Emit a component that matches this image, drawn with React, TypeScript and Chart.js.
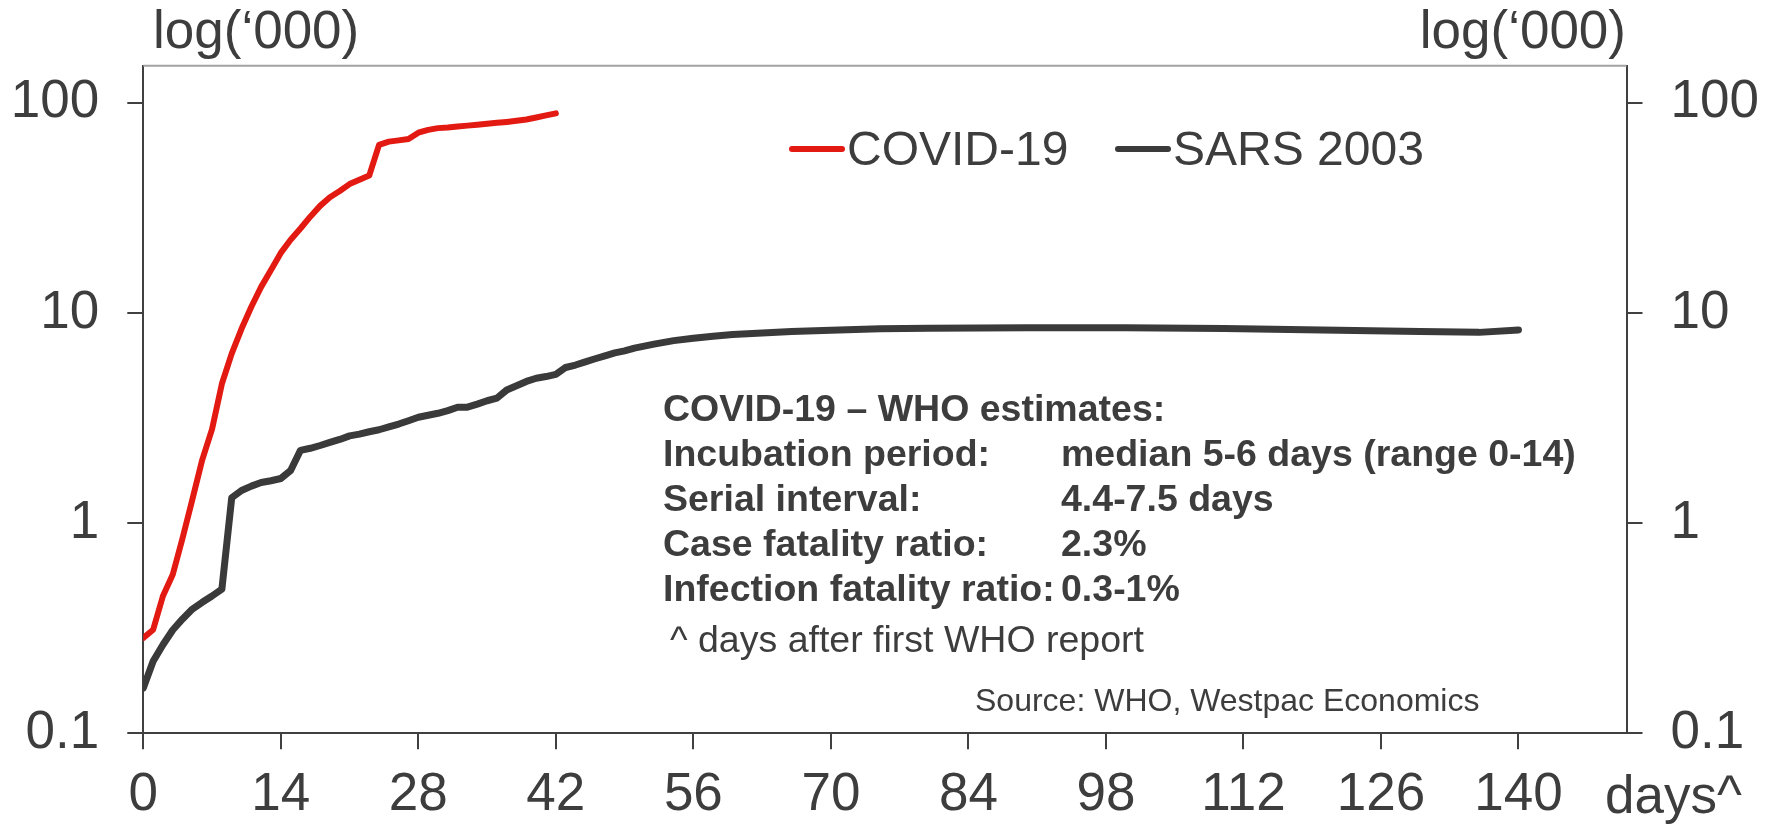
import React, { useEffect, useRef } from "react";
import { Chart, registerables } from "chart.js";

Chart.register(...registerables);

// ---------- data ----------
const covidDays = [
  0, 1, 2, 3, 4, 5, 6, 7, 8, 9, 10, 11, 12, 13, 14, 15, 16, 17, 18, 19, 20,
  21, 22, 23, 24, 25, 26, 27, 28, 29, 30, 31, 32, 33, 34, 35, 36, 37, 38, 39,
  40, 41, 42,
];
const covidCases = [
  0.284, 0.311, 0.45, 0.57, 0.85, 1.3, 2.0, 2.8, 4.6, 6.4, 8.4, 10.7, 13.3,
  16.0, 19.3, 22.3, 25.2, 28.7, 32.3, 35.5, 38.0, 41.0, 43.0, 45.0, 63.0, 65.3,
  66.2, 67.2, 72.0, 74.3, 75.7, 76.3, 77.1, 77.8, 78.6, 79.5, 80.2, 81.0, 82.0,
  83.2, 85.0, 87.0, 89.0,
];

const sarsDays = [
  0, 1, 2, 3, 4, 5, 6, 7, 8, 9, 10, 11, 12, 13, 14, 15, 16, 17, 18, 19, 20,
  21, 22, 23, 24, 25, 26, 27, 28, 29, 30, 31, 32, 33, 34, 35, 36, 37, 38, 39,
  40, 41, 42, 43, 44, 45, 46, 47, 48, 49, 50, 52, 54, 56, 58, 60, 63, 66, 70,
  75, 80, 90, 100, 110, 120, 130, 136, 140,
];
const sarsCases = [
  0.164, 0.22, 0.264, 0.31, 0.35, 0.39, 0.42, 0.45, 0.485, 1.32, 1.43, 1.5,
  1.56, 1.59, 1.63, 1.78, 2.22, 2.27, 2.34, 2.42, 2.5, 2.6, 2.65, 2.72, 2.78,
  2.87, 2.96, 3.07, 3.19, 3.26, 3.33, 3.43, 3.56, 3.56, 3.68, 3.82, 3.93, 4.3,
  4.5, 4.72, 4.89, 4.98, 5.1, 5.5, 5.65, 5.85, 6.05, 6.25, 6.45, 6.6, 6.8, 7.1,
  7.38, 7.58, 7.75, 7.9, 8.02, 8.15, 8.28, 8.4, 8.46, 8.5, 8.5, 8.42, 8.3,
  8.15, 8.08, 8.3,
];

const seriesNames = ["COVID-19", "SARS 2003"];
const xTickValues = [0, 14, 28, 42, 56, 70, 84, 98, 112, 126, 140];
const yTickValues = [0.1, 1, 10, 100];
const yTickLabels = ["0.1", "1", "10", "100"];
const unitLabel = "log(\u2018000)";
const xUnitLabel = "days^";
const noteTitle = "COVID-19 \u2013 WHO estimates:";
const noteLabels = [
  "Incubation period:",
  "Serial interval:",
  "Case fatality ratio:",
  "Infection fatality ratio:",
];
const noteValues = [
  "median 5-6 days (range 0-14)",
  "4.4-7.5 days",
  "2.3%",
  "0.3-1%",
];
const footnote = "^ days after first WHO report";
const sourceNote = "Source: WHO, Westpac Economics";

// ---------- styles ----------
const FONT = '"Liberation Sans", Arial, Helvetica, sans-serif';
const TEXT = "#3d3d3d";
const AXIS = "#404040";
const RED = "#e31a12";
const DARK = "#3a3a3a";
const BIG = 53;

const W = 1777;
const H = 825;

const overlayPlugin = {
  id: "overlay",
  afterDraw(chart: any) {
    const ctx = chart.ctx as CanvasRenderingContext2D;
    const area = chart.chartArea;
    ctx.save();

    // top border
    ctx.strokeStyle = "#a3a3a3";
    ctx.lineWidth = 2;
    ctx.beginPath();
    ctx.moveTo(area.left, area.top);
    ctx.lineTo(area.right, area.top);
    ctx.stroke();

    ctx.fillStyle = TEXT;
    ctx.textBaseline = "alphabetic";

    // axis unit titles
    ctx.font = `${BIG}px ${FONT}`;
    ctx.textAlign = "left";
    ctx.fillText(unitLabel, 153, 48);
    ctx.textAlign = "right";
    ctx.fillText(unitLabel, 1626, 48);
    ctx.textAlign = "left";
    ctx.fillText(xUnitLabel, 1605, 813);

    // legend
    const ds = chart.data.datasets;
    const legendItems = [
      { x: 789, tx: 847 },
      { x: 1115, tx: 1173 },
    ];
    legendItems.forEach((it, i) => {
      ctx.strokeStyle = ds[i].borderColor;
      ctx.lineWidth = 6;
      ctx.lineCap = "round";
      ctx.beginPath();
      ctx.moveTo(it.x + 3, 149);
      ctx.lineTo(it.x + 53, 149);
      ctx.stroke();
      ctx.fillStyle = TEXT;
      ctx.font = `48px ${FONT}`;
      ctx.textAlign = "left";
      ctx.fillText(ds[i].label, it.tx, 165);
    });

    // notes
    ctx.fillStyle = TEXT;
    ctx.textAlign = "left";
    ctx.font = `bold 37.5px ${FONT}`;
    ctx.fillText(noteTitle, 663, 421);
    const baselines = [466, 511, 556, 601];
    noteLabels.forEach((lab, i) => {
      ctx.fillText(lab, 663, baselines[i]);
      ctx.fillText(noteValues[i], 1061, baselines[i]);
    });
    ctx.font = `37.5px ${FONT}`;
    ctx.fillText(footnote, 670, 652);
    ctx.font = `32px ${FONT}`;
    ctx.fillText(sourceNote, 975, 711);

    ctx.restore();
  },
};

function yAxis(position: "left" | "right", width: number) {
  return {
    type: "logarithmic" as const,
    position,
    min: 0.1,
    max: 150,
    afterBuildTicks: (s: any) => {
      s.ticks = yTickValues.map((v) => ({ value: v }));
    },
    afterFit: (s: any) => {
      s.width = width;
    },
    grid: {
      display: true,
      drawOnChartArea: false,
      drawTicks: true,
      tickLength: 16,
      color: AXIS,
      lineWidth: 2,
    },
    border: { display: true, color: AXIS, width: 2 },
    ticks: {
      font: { family: FONT, size: BIG },
      color: TEXT,
      padding: 28,
      autoSkip: false,
      callback: (v: any) => {
        const i = yTickValues.indexOf(Number(v));
        return i >= 0 ? yTickLabels[i] : "";
      },
    },
  };
}

export default function App() {
  const ref = useRef<HTMLCanvasElement | null>(null);

  useEffect(() => {
    if (!ref.current) return;
    const chart = new Chart(ref.current, {
      type: "line",
      data: {
        datasets: [
          {
            label: seriesNames[0],
            data: covidDays.map((d, i) => ({ x: d, y: covidCases[i] })),
            borderColor: RED,
            backgroundColor: RED,
            borderWidth: 6,
            pointRadius: 0,
            tension: 0,
            borderCapStyle: "round",
            borderJoinStyle: "round",
            yAxisID: "y",
          },
          {
            label: seriesNames[1],
            data: sarsDays.map((d, i) => ({ x: d, y: sarsCases[i] })),
            borderColor: DARK,
            backgroundColor: DARK,
            borderWidth: 7,
            pointRadius: 0,
            tension: 0,
            borderCapStyle: "round",
            borderJoinStyle: "round",
            yAxisID: "y",
          },
        ],
      },
      options: {
        animation: false,
        responsive: false,
        maintainAspectRatio: false,
        devicePixelRatio: 1,
        layout: { padding: { top: 65.7, left: 0, right: 0, bottom: 0 } },
        plugins: {
          legend: { display: false },
          tooltip: { enabled: false },
        },
        scales: {
          x: {
            type: "linear",
            position: "bottom",
            min: 0,
            max: 151,
            afterBuildTicks: (s: any) => {
              s.ticks = xTickValues.map((v) => ({ value: v }));
            },
            afterFit: (s: any) => {
              s.height = 91.7;
            },
            grid: {
              display: true,
              drawOnChartArea: false,
              drawTicks: true,
              tickLength: 16,
              color: AXIS,
              lineWidth: 2,
            },
            border: { display: true, color: AXIS, width: 2 },
            ticks: {
              font: { family: FONT, size: BIG },
              color: TEXT,
              padding: 14,
              maxRotation: 0,
              autoSkip: false,
              callback: (v: any) => String(v),
            },
          },
          y: yAxis("left", 143.3),
          y2: yAxis("right", W - 1626.5),
        },
      },
      plugins: [overlayPlugin],
    } as any);
    return () => chart.destroy();
  }, []);

  return (
    <div
      style={{
        position: "absolute",
        left: 0,
        top: 0,
        width: W,
        height: H,
        background: "#ffffff",
      }}
    >
      <canvas ref={ref} width={W} height={H} style={{ width: W, height: H }} />
    </div>
  );
}
